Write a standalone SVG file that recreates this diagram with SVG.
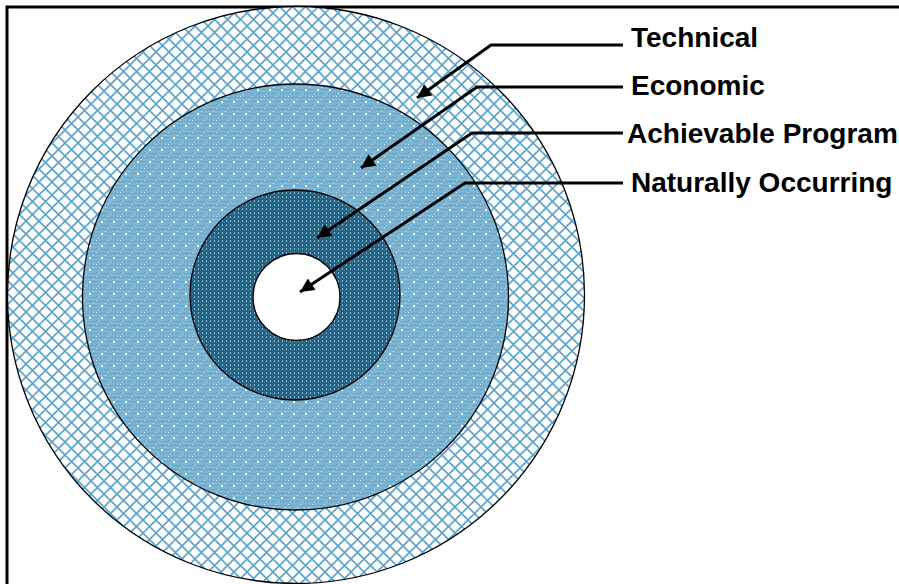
<svg xmlns="http://www.w3.org/2000/svg" width="899" height="584" viewBox="0 0 899 584">
<style>
.ring{stroke:#000;stroke-width:1.3}
.lbl{font-family:"Liberation Sans",Arial,sans-serif;font-weight:bold;font-size:28px;fill:#000}
.conn{fill:none;stroke:#000;stroke-width:3;marker-end:url(#ah)}
</style>
<defs>
<pattern id="pOuter" width="13" height="13" patternUnits="userSpaceOnUse">
<rect width="13" height="13" fill="#fff"/>
<path d="M0,0 L13,13 M13,0 L0,13" stroke="#5aa3cc" stroke-width="1.6" fill="none"/>
</pattern>
<pattern id="pMid" width="12" height="12" patternUnits="userSpaceOnUse">
<rect width="12" height="12" fill="#7db6d4"/>
<path d="M0,1.5 H12 M0,5.5 H12 M0,9.5 H12" stroke="#6aa6c6" stroke-width="1" fill="none"/>
<rect x="5" y="5" width="2" height="2" fill="#f2f9fd"/>
<rect x="0" y="0" width="1" height="1" fill="#d5e9f3"/>
<rect x="2" y="9" width="1" height="1" fill="#d5e9f3"/>
<rect x="9" y="3" width="1" height="1" fill="#d5e9f3"/>
</pattern>
<pattern id="pInner" width="4" height="4" patternUnits="userSpaceOnUse">
<rect width="4" height="4" fill="#235f81"/>
<rect x="2" y="0" width="1" height="2" fill="#8dbcd5"/>
<rect x="0" y="2" width="1" height="1" fill="#4a89aa"/>
</pattern>
<marker id="ah" viewBox="0 0 10 10" refX="10" refY="5" markerWidth="17" markerHeight="14" markerUnits="userSpaceOnUse" orient="auto">
<path d="M0,0 L10,5 L0,10 Z" fill="#000"/>
</marker>
</defs>
<rect x="7" y="7" width="900" height="590" fill="#fff" stroke="#000" stroke-width="3"/>
<g id="technical-ring"><circle class="ring" cx="296" cy="295" r="288.5" fill="url(#pOuter)"/></g>
<g id="economic-ring"><circle class="ring" cx="295.5" cy="297" r="213" fill="url(#pMid)"/></g>
<g id="achievable-ring"><circle class="ring" cx="295" cy="295" r="105" fill="url(#pInner)"/></g>
<g id="natural-core"><circle class="ring" cx="296.5" cy="297" r="43.5" fill="#fff"/></g>
<g id="connectors">
<path class="conn" d="M623,45 H491 L417,98"/>
<path class="conn" d="M623,87 H477 L361,168"/>
<path class="conn" d="M623,133 H472 L317,238"/>
<path class="conn" d="M623,183 H465 L300,292"/>
</g>
<g id="label-technical"><text class="lbl" x="631" y="47">Technical</text></g>
<g id="label-economic"><text class="lbl" x="631" y="95">Economic</text></g>
<g id="label-achievable"><text class="lbl" x="627" y="143">Achievable Program</text></g>
<g id="label-natural"><text class="lbl" x="631" y="192">Naturally Occurring</text></g>
</svg>
